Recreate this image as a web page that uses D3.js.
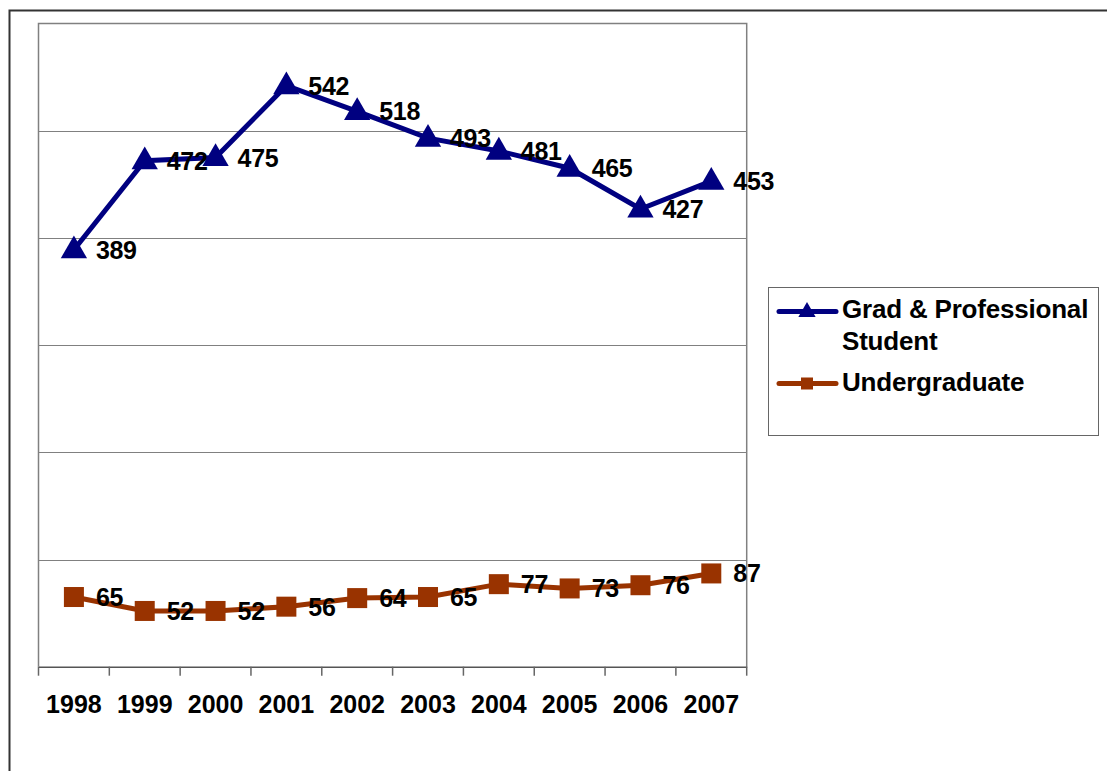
<!DOCTYPE html>
<html><head><meta charset="utf-8">
<script src="https://cdn.jsdelivr.net/npm/d3@7"></script>
<style>
html,body{margin:0;padding:0;background:#fff;overflow:hidden;}
text{font-family:"Liberation Sans",Arial,sans-serif;font-weight:bold;fill:#000;}
</style></head>
<body>
<svg id="chart" width="1107" height="771"></svg>
<script>
const years = ["1998","1999","2000","2001","2002","2003","2004","2005","2006","2007"];
const gradValues = [389,472,475,542,518,493,481,465,427,453];
const undergradValues = [65,52,52,56,64,65,77,73,76,87];
const seriesNames = ["Grad & Professional Student","Undergraduate"];
const yTicks = [0,100,200,300,400,500,600];

(function(){
const svg = d3.select("#chart");
const pLeft = 38.5, pRight = 746.7, pTop = 23.5, pBottom = 666.7;

// outer frame
svg.append("rect").attr("x",9.5).attr("y",10.5).attr("width",1120).attr("height",800)
  .attr("fill","none").attr("stroke","#333").attr("stroke-width",2);

const x = d3.scaleBand().domain(years).range([pLeft,pRight]).padding(0);
const y = d3.scaleLinear().domain([0,600]).range([pBottom,pTop]);

// gridlines
svg.append("g").selectAll("line").data(yTicks.slice(1,-1)).join("line")
  .attr("x1",pLeft).attr("x2",pRight).attr("y1",d=>Math.round(y(d))+0.5).attr("y2",d=>Math.round(y(d))+0.5)
  .attr("stroke","#808080").attr("stroke-width",1);

// plot border
svg.append("path").attr("d",`M${pLeft},${pBottom}V${pTop}H${pRight}V${pBottom}`)
  .attr("fill","none").attr("stroke","#808080").attr("stroke-width",1.5);

// x axis
const xAxis = d3.axisBottom(x).tickSize(0).tickPadding(0);
const gx = svg.append("g").attr("transform",`translate(0,${pBottom})`).call(xAxis);
gx.select(".domain").attr("stroke","#555").attr("stroke-width",1.5);
gx.selectAll(".tick text").attr("font-size","25px").attr("dy",null).attr("y",46)
  .style("font-family","'Liberation Sans',Arial,sans-serif").style("font-weight","bold").attr("fill","#000");
// boundary ticks
const bounds = years.map(d=>x(d)).concat([x(years[years.length-1])+x.bandwidth()]);
svg.append("g").selectAll("line").data(bounds).join("line")
  .attr("x1",d=>d).attr("x2",d=>d).attr("y1",pBottom).attr("y2",pBottom+9)
  .attr("stroke","#666").attr("stroke-width",1.5);

const cx = d => x(d)+x.bandwidth()/2;
const line = d3.line().x(d=>cx(d.year)).y(d=>y(d.v));

const gradData = years.map((yr,i)=>({year:yr,v:gradValues[i]}));
const ugData = years.map((yr,i)=>({year:yr,v:undergradValues[i]}));

const navy = "#000080", rust = "#993300";

svg.append("path").datum(gradData).attr("d",line).attr("fill","none").attr("stroke",navy).attr("stroke-width",5);
svg.append("path").datum(ugData).attr("d",line).attr("fill","none").attr("stroke",rust).attr("stroke-width",5);

const tri = d3.symbol().type(d3.symbolTriangle).size(300);
svg.append("g").selectAll("path").data(gradData).join("path")
  .attr("d",tri).attr("transform",d=>`translate(${cx(d.year)},${y(d.v)+1})`).attr("fill",navy);

svg.append("g").selectAll("rect").data(ugData).join("rect")
  .attr("x",d=>cx(d.year)-10).attr("y",d=>y(d.v)-10).attr("width",20).attr("height",20).attr("fill",rust);

// data labels
function labels(data){
  svg.append("g").selectAll("text").data(data).join("text")
    .attr("x",d=>cx(d.year)+22).attr("y",d=>y(d.v)+9)
    .attr("font-size","25px").attr("letter-spacing","-0.3")
    .text(d=>d.v);
}
labels(gradData); labels(ugData);

// legend
const lg = svg.append("g");
lg.append("rect").attr("x",768.5).attr("y",287.5).attr("width",330).attr("height",148)
  .attr("fill","#fff").attr("stroke","#666").attr("stroke-width",1);
lg.append("line").attr("x1",779).attr("x2",836).attr("y1",311.5).attr("y2",311.5).attr("stroke",navy).attr("stroke-width",5).attr("stroke-linecap","round");
lg.append("path").attr("d",d3.symbol().type(d3.symbolTriangle).size(130)).attr("transform","translate(807,312)").attr("fill",navy);
lg.append("text").attr("x",842).attr("y",318).attr("font-size","26px").attr("letter-spacing","-0.2").text("Grad & Professional");
lg.append("text").attr("x",842).attr("y",349.5).attr("font-size","26px").attr("letter-spacing","-0.2").text("Student");
lg.append("line").attr("x1",779).attr("x2",836).attr("y1",383.5).attr("y2",383.5).attr("stroke",rust).attr("stroke-width",5).attr("stroke-linecap","round");
lg.append("rect").attr("x",801).attr("y",377.5).attr("width",12).attr("height",12).attr("fill",rust);
lg.append("text").attr("x",842).attr("y",391).attr("font-size","26px").attr("letter-spacing","-0.2").text(seriesNames[1]);
})();
</script>
</body></html>
